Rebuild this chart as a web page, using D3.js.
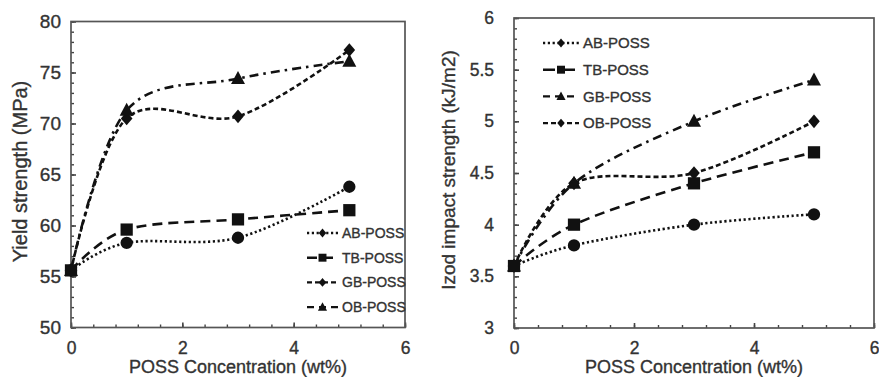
<!DOCTYPE html>
<html>
<head>
<meta charset="utf-8">
<script src="https://cdn.jsdelivr.net/npm/d3@7"></script>
<style>
  body { margin: 0; background: #fff; }
  svg { display: block; font-family: "Liberation Sans", Arial, sans-serif; }
  text { stroke: #333; stroke-width: 0.35px; }
</style>
</head>
<body>
<svg id="chart" width="879" height="377"></svg>
<script>
// data
var conc = [0, 1, 3, 5];
var seriesNames = ["AB-POSS", "TB-POSS", "GB-POSS", "OB-POSS"];

var yieldAB = [55.6, 58.3, 58.8, 63.8];
var yieldTB = [55.6, 59.6, 60.6, 61.5];
var yieldGB = [55.6, 70.5, 70.7, 77.2];
var yieldOB = [55.6, 71.3, 74.4, 76.1];

var impactAB = [3.6, 3.8, 4.0, 4.1];
var impactTB = [3.6, 4.0, 4.4, 4.7];
var impactGB = [3.6, 4.4, 5.0, 5.4];
var impactOB = [3.6, 4.4, 4.5, 5.0];

var xTicks = [0, 2, 4, 6];
var yieldTicks = [50, 55, 60, 65, 70, 75, 80];
var impactTicks = [3, 3.5, 4, 4.5, 5, 5.5, 6];

// line looks
var DOT = "2.2,2.6";
var LONG = "10,6";
var SHORT = "5,3";
var DASHDOT = "9,5,2.5,5";

var svg = d3.select("#chart");

function markerPath(kind, s){
  if(kind == "circle") return d3.symbol().type(d3.symbolCircle).size(Math.PI*38*s*s)();
  if(kind == "square") return d3.symbol().type(d3.symbolSquare).size(150*s*s)();
  if(kind == "triangle") return "M0," + (-7.5*s) + "L" + (7*s) + "," + (5.5*s) + "L" + (-7*s) + "," + (5.5*s) + "Z";
  return "M0," + (-6.8*s) + "L" + (5.8*s) + ",0L0," + (6.8*s) + "L" + (-5.8*s) + ",0Z";
}

function drawPanel(cfg){
  var g = svg.append("g");
  var x = d3.scaleLinear().domain([0, 6]).range([cfg.left, cfg.right]);
  var y = d3.scaleLinear().domain(cfg.yDomain).range([cfg.bottom, cfg.top]);

  // minor ticks
  var xMinor = d3.range(0, 6.001, 0.4);
  var yMinor = d3.range(cfg.yDomain[0], cfg.yDomain[1] + 1e-6, cfg.yMinor);
  g.append("g").attr("transform", "translate(0," + cfg.bottom + ")")
    .call(d3.axisBottom(x).tickValues(xMinor).tickSizeInner(-3).tickSizeOuter(0).tickFormat(""))
    .call(function(a){ a.select(".domain").remove(); a.selectAll("line").attr("stroke", "#444").attr("stroke-width", 1.4); });
  g.append("g").attr("transform", "translate(" + cfg.left + ",0)")
    .call(d3.axisLeft(y).tickValues(yMinor).tickSizeInner(-3).tickSizeOuter(0).tickFormat(""))
    .call(function(a){ a.select(".domain").remove(); a.selectAll("line").attr("stroke", "#444").attr("stroke-width", 1.4); });

  // major ticks + labels
  g.append("g").attr("transform", "translate(0," + cfg.bottom + ")")
    .call(d3.axisBottom(x).tickValues(xTicks).tickSizeInner(-5).tickSizeOuter(0).tickPadding(14).tickFormat(d3.format("d")))
    .call(function(a){
      a.select(".domain").remove();
      a.selectAll("line").attr("stroke", "#444").attr("stroke-width", 1.6);
      a.selectAll("text").attr("font-size", 17.5).attr("fill", "#333").attr("font-family", "Liberation Sans, Arial, sans-serif");
    });
  g.append("g").attr("transform", "translate(" + cfg.left + ",0)")
    .call(d3.axisLeft(y).tickValues(cfg.yTicks).tickSizeInner(-5).tickSizeOuter(0).tickPadding(cfg.yPad).tickFormat(function(d){ return String(d); }))
    .call(function(a){
      a.select(".domain").remove();
      a.selectAll("line").attr("stroke", "#444").attr("stroke-width", 1.6);
      a.selectAll("text").attr("font-size", cfg.yFont).attr("fill", "#333").attr("font-family", "Liberation Sans, Arial, sans-serif");
    });

  // frame
  g.append("rect")
    .attr("x", cfg.left).attr("y", cfg.top)
    .attr("width", cfg.right - cfg.left).attr("height", cfg.bottom - cfg.top)
    .attr("fill", "none").attr("stroke", "#555").attr("stroke-width", 1.7);

  // titles
  g.append("text")
    .attr("x", (cfg.left + cfg.right)/2).attr("y", 373)
    .attr("text-anchor", "middle").attr("font-size", 18).attr("fill", "#333")
    .text("POSS Concentration (wt%)");
  g.append("text")
    .attr("transform", "translate(" + cfg.titleX + "," + ((cfg.top + cfg.bottom)/2 - 3) + ") rotate(-90)")
    .attr("text-anchor", "middle").attr("font-size", cfg.titleFont).attr("fill", "#333")
    .text(cfg.yTitle);

  var line = d3.line()
    .x(function(d){ return x(d[0]); })
    .y(function(d){ return y(d[1]); })
    .curve(d3.curveCardinal.tension(0));

  cfg.series.forEach(function(s){
    var pts = conc.map(function(c, i){ return [c, s.values[i]]; });
    g.append("path").datum(pts)
      .attr("d", line)
      .attr("fill", "none").attr("stroke", "#111").attr("stroke-width", 2.6)
      .attr("stroke-dasharray", s.dash);
  });
  cfg.drawOrder.forEach(function(k){
    var s = cfg.series[k];
    conc.forEach(function(c, i){
      g.append("path")
        .attr("d", markerPath(s.marker, 1))
        .attr("transform", "translate(" + x(c) + "," + y(s.values[i]) + ")")
        .attr("fill", "#111");
    });
  });

  // legend
  cfg.series.forEach(function(s, i){
    var ly = cfg.legY + i*cfg.legStep;
    g.append("line")
      .attr("x1", cfg.legX).attr("x2", cfg.legX + cfg.legLen)
      .attr("y1", ly).attr("y2", ly)
      .attr("stroke", "#111").attr("stroke-width", 2.4)
      .attr("stroke-dasharray", s.legDash || s.dash);
    g.append("path")
      .attr("d", markerPath(s.legMarker || s.marker, 0.65))
      .attr("transform", "translate(" + (cfg.legX + cfg.legLen/2) + "," + ly + ")")
      .attr("fill", "#111");
    g.append("text")
      .attr("x", cfg.legX + cfg.legLen + 4).attr("y", ly)
      .attr("dy", "0.35em").attr("font-size", cfg.legFont).attr("fill", "#333")
      .text(seriesNames[i]);
  });
}

drawPanel({
  left: 71, right: 405, top: 21.5, bottom: 327.5,
  yDomain: [50, 80], yTicks: yieldTicks, yMinor: 1, yPad: 10, yFont: 19,
  yTitle: "Yield strength (MPa)", titleX: 27, titleFont: 20,
  legX: 307, legLen: 31, legY: 233, legStep: 24.7, legFont: 14,
  drawOrder: [0, 2, 3, 1],
  series: [
    {values: yieldAB, marker: "circle", dash: DOT, legMarker: "diamond"},
    {values: yieldTB, marker: "square", dash: LONG},
    {values: yieldGB, marker: "diamond", dash: SHORT},
    {values: yieldOB, marker: "triangle", dash: DASHDOT, legDash: "7,5"}
  ]
});

drawPanel({
  left: 514, right: 874, top: 18, bottom: 328,
  yDomain: [3, 6], yTicks: impactTicks, yMinor: 0.1, yPad: 20, yFont: 17.5,
  yTitle: "Izod impact strength (kJ/m2)", titleX: 455, titleFont: 19,
  legX: 543, legLen: 36, legY: 43, legStep: 26.7, legFont: 15,
  drawOrder: [0, 2, 3, 1],
  series: [
    {values: impactAB, marker: "circle", dash: DOT, legMarker: "diamond"},
    {values: impactTB, marker: "square", dash: LONG, legDash: "12,8"},
    {values: impactGB, marker: "triangle", dash: DASHDOT, legDash: "7,5"},
    {values: impactOB, marker: "diamond", dash: SHORT}
  ]
});
</script>
</body>
</html>
